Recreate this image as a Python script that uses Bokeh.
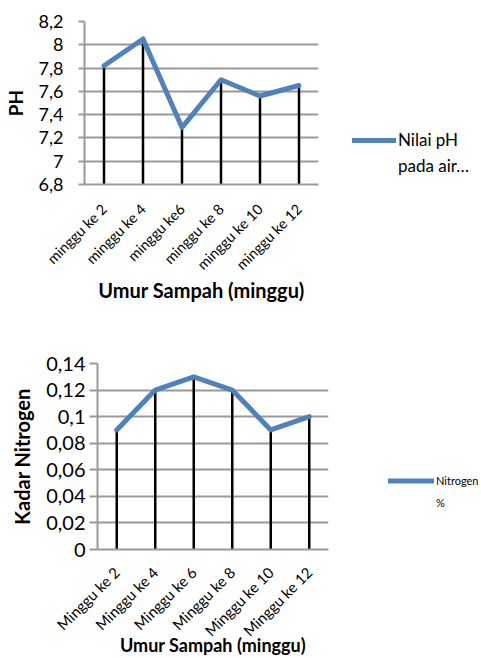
from math import pi
from bokeh.plotting import figure
from bokeh.models import (FactorRange, Range1d, FixedTicker, CustomJSTickFormatter,
                          Legend, LegendItem, Spacer)
from bokeh.layouts import column, row
from bokeh.embed import file_html
from bokeh.resources import INLINE

# ---- data: chart 1 (pH) ----
ph_weeks = ["minggu ke 2", "minggu ke 4", "minggu ke6", "minggu ke 8", "minggu ke 10", "minggu ke 12"]
ph_values = [7.82, 8.05, 7.29, 7.70, 7.56, 7.65]
ph_ticks = [6.8, 7.0, 7.2, 7.4, 7.6, 7.8, 8.0, 8.2]
ph_tick_labels = ["6,8", "7", "7,2", "7,4", "7,6", "7,8", "8", "8,2"]
ph_ylabel = "PH"
ph_xlabel = "Umur Sampah (minggu)"
ph_legend = ["Nilai pH", "pada air…"]

# ---- data: chart 2 (Nitrogen) ----
n_weeks = ["Minggu ke 2", "Minggu ke 4", "Minggu ke 6", "Minggu ke 8", "Minggu ke 10", "Minggu ke 12"]
n_values = [0.09, 0.12, 0.13, 0.12, 0.09, 0.10]
n_ticks = [0.0, 0.02, 0.04, 0.06, 0.08, 0.10, 0.12, 0.14]
n_tick_labels = ["0", "0,02", "0,04", "0,06", "0,08", "0,1", "0,12", "0,14"]
n_ylabel = "Kadar Nitrogen"
n_xlabel = "Umur Sampah (minggu)"
n_legend = ["Nitrogen", "%"]

FONT = "Lato"
GRID = "#999999"
BLUE = "#4F81BD"


def make_chart(cats, vals, ticks, labels, ylabel, xlabel, width, height,
               b_left, b_right, b_top, b_bottom, tick_out, ytick_size, ytick_standoff,
               xtick_size, xtick_standoff, ytitle_size, xtitle_size,
               ylabel_standoff, xlabel_standoff):
    p = figure(width=width, height=height, x_range=FactorRange(*cats),
               y_range=Range1d(ticks[0], ticks[-1]),
               output_backend="svg", toolbar_location=None,
               min_border_left=b_left, min_border_right=b_right,
               min_border_top=b_top, min_border_bottom=b_bottom)
    p.outline_line_color = None
    p.background_fill_color = "white"
    p.border_fill_color = "white"

    ticker = FixedTicker(ticks=ticks)
    fmt = CustomJSTickFormatter(args=dict(tvals=ticks, tlabels=labels), code="""
        let best = 0;
        for (let i = 0; i < tvals.length; i++) {
            if (Math.abs(tvals[i] - tick) < Math.abs(tvals[best] - tick)) best = i;
        }
        return tlabels[best];
    """)
    p.yaxis.ticker = ticker
    p.yaxis.formatter = fmt
    p.ygrid.ticker = ticker
    p.ygrid.grid_line_color = GRID
    p.ygrid.grid_line_width = 2
    p.xgrid.visible = False

    ya = p.yaxis[0]
    ya.axis_line_color = GRID
    ya.axis_line_width = 2
    ya.major_tick_line_color = GRID
    ya.major_tick_line_width = 2
    ya.major_tick_out = tick_out
    ya.major_tick_in = 0
    ya.minor_tick_line_color = None
    ya.major_label_text_font = FONT
    ya.major_label_text_font_size = ytick_size
    ya.major_label_text_color = "black"
    ya.major_label_standoff = ytick_standoff
    ya.axis_label = ylabel
    ya.axis_label_text_font = FONT
    ya.axis_label_text_font_style = "bold"
    ya.axis_label_text_font_size = ytitle_size
    ya.axis_label_text_color = "black"
    ya.axis_label_standoff = ylabel_standoff

    xa = p.xaxis[0]
    xa.axis_line_color = GRID
    xa.axis_line_width = 2
    xa.major_tick_line_color = None
    xa.minor_tick_line_color = None
    xa.major_label_orientation = pi / 4
    xa.major_label_text_font = FONT
    xa.major_label_text_font_size = xtick_size
    xa.major_label_text_color = "black"
    xa.major_label_standoff = xtick_standoff
    xa.axis_label = xlabel
    xa.axis_label_text_font = FONT
    xa.axis_label_text_font_style = "bold"
    xa.axis_label_text_font_size = xtitle_size
    xa.axis_label_text_color = "black"
    xa.axis_label_standoff = xlabel_standoff

    p.segment(x0=cats, y0=[ticks[0]] * len(cats), x1=cats, y1=vals,
              line_color="black", line_width=2.5)
    p.line(x=cats, y=vals, line_color=BLUE, line_width=5, line_join="round",
           line_cap="round")
    return p


def make_legend(legend_labels, col_width, top_gap, left_gap, box_h,
                font_size, glyph_w, item_h, spacing):
    lp = figure(width=col_width - left_gap, height=box_h,
                x_range=Range1d(0, 1), y_range=Range1d(0, 1),
                x_axis_type=None, y_axis_type=None, output_backend="svg",
                toolbar_location=None, min_border=0)
    lp.outline_line_color = None
    lp.xgrid.visible = False
    lp.ygrid.visible = False
    # legend-key renderers: their (off-range) data is never visible, only the key
    r = lp.line(x=[5, 6], y=[5, 6], line_color=BLUE, line_width=5, line_cap="round")
    ghost = lp.line(x=[5, 6], y=[5, 6], line_alpha=0)
    legend = Legend(items=[LegendItem(label=legend_labels[0], renderers=[r]),
                           LegendItem(label=legend_labels[1], renderers=[ghost])],
                    location="top_left", border_line_color=None,
                    background_fill_alpha=0, padding=0, margin=0,
                    spacing=spacing, label_standoff=2,
                    glyph_width=glyph_w, glyph_height=item_h, label_height=item_h,
                    label_text_font=FONT, label_text_font_size=font_size,
                    label_text_color="black", label_text_baseline="middle")
    lp.add_layout(legend)
    return column(Spacer(width=col_width, height=top_gap),
                  row(Spacer(width=left_gap, height=box_h), lp, spacing=0),
                  spacing=0)


p1 = make_chart(ph_weeks, ph_values, ph_ticks, ph_tick_labels, ph_ylabel, ph_xlabel,
                width=320, height=330, b_left=84, b_right=2, b_top=21, b_bottom=146,
                tick_out=6, ytick_size="18px", ytick_standoff=15,
                xtick_size="14.5px", xtick_standoff=16, ytitle_size="19px",
                xtitle_size="20px", ylabel_standoff=9, xlabel_standoff=-4)
l1 = make_legend(ph_legend, 161, 129, 32, 60, "17px", 44, 20, 5)

p2 = make_chart(n_weeks, n_values, n_ticks, n_tick_labels, n_ylabel, n_xlabel,
                width=330, height=328, b_left=97, b_right=2, b_top=33, b_bottom=107,
                tick_out=8, ytick_size="20px", ytick_standoff=4,
                xtick_size="15px", xtick_standoff=14, ytitle_size="20px",
                xtitle_size="18px", ylabel_standoff=9, xlabel_standoff=-15)
l2 = make_legend(n_legend, 151, 143, 58, 45, "11px", 46, 15, 7)

layout = column(row(p1, l1, spacing=0), row(p2, l2, spacing=0), spacing=0)
open("out.html", "w").write(file_html(layout, INLINE))
